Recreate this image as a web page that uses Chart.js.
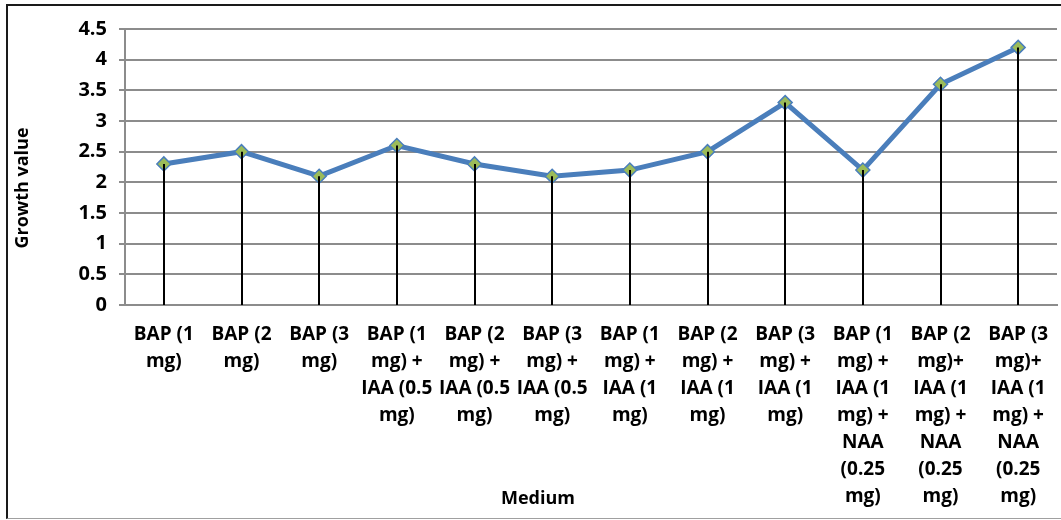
<!DOCTYPE html>
<html>
<head>
<meta charset="utf-8">
<script src="https://cdn.jsdelivr.net/npm/chart.js@4/dist/chart.umd.min.js"></script>
<style>
  html, body { margin: 0; padding: 0; background: #fff; }
  #wrap { position: relative; width: 1061px; height: 520px; }
  #frame {
    position: absolute; left: 6px; top: 4px; right: -4px; bottom: 1px;
    border-left: 2px solid #1a1a1a; border-top: 2px solid #1a1a1a;
    border-bottom: 1px solid #a0a0a0;
    pointer-events: none;
  }
  canvas { position: absolute; left: 0; top: 0; }
</style>
</head>
<body>
<div id="wrap">
  <canvas id="chart" width="1061" height="520"></canvas>
  <div id="frame"></div>
</div>
<script>
const mediums = [
  ['BAP (1', 'mg)'],
  ['BAP (2', 'mg)'],
  ['BAP (3', 'mg)'],
  ['BAP (1', 'mg) +', 'IAA (0.5', 'mg)'],
  ['BAP (2', 'mg) +', 'IAA (0.5', 'mg)'],
  ['BAP (3', 'mg) +', 'IAA (0.5', 'mg)'],
  ['BAP (1', 'mg) +', 'IAA (1', 'mg)'],
  ['BAP (2', 'mg) +', 'IAA (1', 'mg)'],
  ['BAP (3', 'mg) +', 'IAA (1', 'mg)'],
  ['BAP (1', 'mg) +', 'IAA (1', 'mg) +', 'NAA', '(0.25', 'mg)'],
  ['BAP (2', 'mg)+', 'IAA (1', 'mg) +', 'NAA', '(0.25', 'mg)'],
  ['BAP (3', 'mg)+', 'IAA (1', 'mg) +', 'NAA', '(0.25', 'mg)']
]
const growthValues = [2.3, 2.5, 2.1, 2.6, 2.3, 2.1, 2.2, 2.5, 3.3, 2.2, 3.6, 4.2]
const yTitle = 'Growth value'
const xTitle = 'Medium'

const FONT = '"Open Sans", "Liberation Sans", sans-serif'

// vertical drop line from every point down to the x axis
const dropLines = {
  id: 'dropLines',
  afterDatasetsDraw(chart) {
    const ctx = chart.ctx
    const x = chart.scales.x
    const y = chart.scales.y
    const base = y.getPixelForValue(0)
    ctx.save()
    ctx.strokeStyle = '#000'
    ctx.lineWidth = 2
    growthValues.forEach((v, i) => {
      const px = Math.round(x.getPixelForValue(i))
      ctx.beginPath()
      ctx.moveTo(px, y.getPixelForValue(v))
      ctx.lineTo(px, base)
      ctx.stroke()
    })
    ctx.restore()
  }
}

// axis titles sit where the spreadsheet put them
const axisTitles = {
  id: 'axisTitles',
  afterDraw(chart) {
    const ctx = chart.ctx
    ctx.save()
    ctx.fillStyle = '#000'
    ctx.font = 'bold 18px ' + FONT
    ctx.textAlign = 'center'
    ctx.textBaseline = 'middle'
    ctx.fillText(xTitle, 538, 499)
    ctx.translate(23, 188)
    ctx.rotate(-Math.PI / 2)
    ctx.fillText(yTitle, 0, 0)
    ctx.restore()
  }
}

new Chart(document.getElementById('chart'), {
  type: 'line',
  data: {
    labels: mediums,
    datasets: [{
      data: growthValues,
      borderColor: '#4A7EBB',
      borderWidth: 5,
      tension: 0,
      pointStyle: 'rectRot',
      pointRadius: 7,
      pointBackgroundColor: '#9BBB59',
      pointBorderColor: '#4A7EBB',
      pointBorderWidth: 1.5
    }]
  },
  options: {
    responsive: false,
    animation: false,
    layout: { autoPadding: false, padding: { top: 29, right: 4, left: 0, bottom: 0 } },
    plugins: {
      legend: { display: false },
      tooltip: { enabled: false }
    },
    scales: {
      x: {
        offset: true,
        grid: { display: false, drawTicks: false },
        border: { display: true, color: '#8c8c8c', width: 2 },
        ticks: {
          color: '#000',
          font: { family: FONT, size: 19, weight: 'bold', lineHeight: 1.42 },
          padding: 16,
          maxRotation: 0,
          autoSkip: false
        },
        afterFit(scale) {
          scale.height = 215
          scale.paddingLeft = 0
          scale.paddingRight = 0
        }
      },
      y: {
        min: 0,
        max: 4.5,
        grid: { color: '#8c8c8c', lineWidth: 2, tickLength: 6 },
        border: { display: true, color: '#8c8c8c', width: 2 },
        ticks: {
          stepSize: 0.5,
          color: '#000',
          font: { family: FONT, size: 20, weight: 'bold' },
          padding: 12,
          callback: v => String(v)
        },
        afterFit(scale) { scale.width = 125 }
      }
    }
  },
  plugins: [dropLines, axisTitles]
})
</script>
</body>
</html>
